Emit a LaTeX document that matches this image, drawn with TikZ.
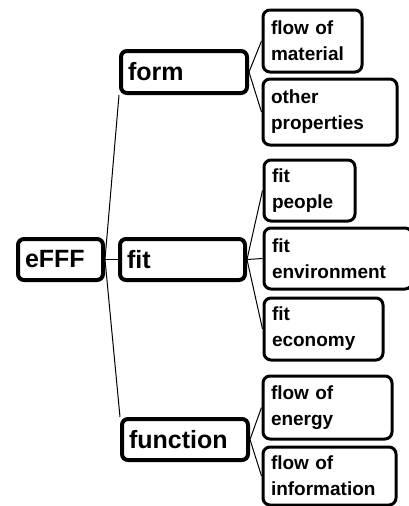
\documentclass[tikz,border=0pt]{standalone}
\usepackage{fontspec}
\setmainfont{Liberation Sans}
\begin{document}
\begin{tikzpicture}[x=1pt, y=-1pt,
    branch/.style={draw, line width=4pt, rounded corners=6pt, anchor=north west,
        align=left, inner xsep=7pt, inner ysep=0pt, font=\bfseries\fontsize{25}{28}\selectfont},
    leaf/.style={draw, line width=3pt, rounded corners=7pt, anchor=north west,
        align=left, inner xsep=8pt, inner ysep=0pt, font=\bfseries\fontsize{19}{26}\selectfont},
    link/.style={line width=1pt}]
            \useasboundingbox (0,0) rectangle (409,506);

            \node[branch, text width=71pt, minimum height=41pt] (root) at (16,237) {eFFF};
            \node[branch, text width=112pt, minimum height=42pt] (form) at (119,49) {form};
            \node[branch, text width=111pt, minimum height=41pt] (fit) at (118,237) {fit};
            \node[branch, text width=112pt, minimum height=41pt] (function) at (120,417) {function};

            \node[leaf, text width=83pt, minimum height=62pt] (material) at (261.5,8.5) {flow of\\material};
            \node[leaf, text width=118pt, minimum height=66pt] (properties) at (261.5,77.5) {other\\properties};
            \node[leaf, text width=75pt, minimum height=61pt] (people) at (262.5,158.5) {fit\\people};
            \node[leaf, text width=132pt, minimum height=61pt] (environment) at (262.5,226.5) {fit\\environment};
            \node[leaf, text width=103pt, minimum height=62pt] (economy) at (262.5,296.5) {fit\\economy};
            \node[leaf, text width=113pt, minimum height=63pt] (energy) at (261.5,374.5) {flow of\\energy};
            \node[leaf, text width=117pt, minimum height=58pt] (information) at (261.5,445.5) {flow of\\information};

            \draw[link] (root.east) -- (form.south west);
            \draw[link] (root.east) -- (fit.west);
            \draw[link] (root.east) -- (function.north west);
            \draw[link] (form.east) -- (material.west);
            \draw[link] (form.east) -- (properties.west);
            \draw[link] (fit.east) -- (people.west);
            \draw[link] (fit.east) -- (environment.west);
            \draw[link] (fit.east) -- (economy.west);
            \draw[link] (function.east) -- (energy.west);
            \draw[link] (function.east) -- (information.west);
        \end{tikzpicture}
\end{document}
